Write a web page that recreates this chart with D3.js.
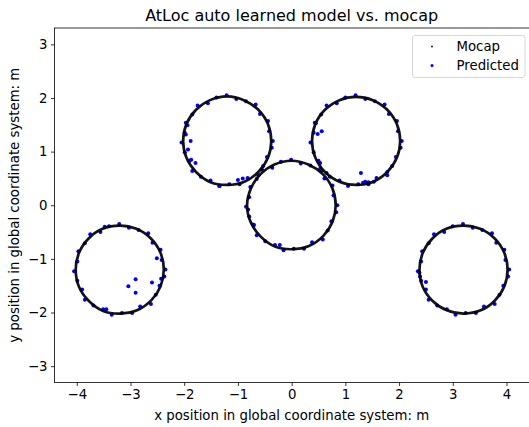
<!DOCTYPE html>
<html>
<head>
<meta charset="utf-8">
<script src="https://cdn.jsdelivr.net/npm/d3@7"></script>
<style>
  html, body { margin: 0; padding: 0; background: #fff; }
  svg { display: block; }
  text { font-family: "DejaVu Sans", sans-serif; fill: #000; }
</style>
</head>
<body>
<svg id="chart" width="529" height="427"></svg>
<script>
// Tick values
const xTicks = [-4, -3, -2, -1, 0, 1, 2, 3, 4];
const yTicks = [-3, -2, -1, 0, 1, 2, 3];

// Mocap trajectory samples, one loop per ring
const mocapRingA = [[-2.38,-1.20],[-2.44,-0.89],[-2.62,-0.62],[-2.89,-0.44],[-3.20,-0.38],[-3.52,-0.44],[-3.78,-0.62],[-3.96,-0.89],[-4.02,-1.20],[-3.96,-1.52],[-3.78,-1.78],[-3.51,-1.97],[-3.20,-2.02],[-2.88,-1.96],[-2.61,-1.77],[-2.44,-1.51]];
const mocapRingB = [[-0.38,1.20],[-0.44,1.51],[-0.62,1.78],[-0.89,1.96],[-1.20,2.03],[-1.52,1.96],[-1.78,1.78],[-1.96,1.51],[-2.02,1.20],[-1.96,0.89],[-1.78,0.62],[-1.51,0.43],[-1.20,0.38],[-0.88,0.44],[-0.62,0.62],[-0.44,0.89]];
const mocapRingC = [[0.82,0.00],[0.76,0.31],[0.58,0.58],[0.31,0.76],[0.00,0.83],[-0.32,0.76],[-0.58,0.58],[-0.76,0.31],[-0.83,0.00],[-0.76,-0.32],[-0.58,-0.58],[-0.31,-0.77],[0.00,-0.82],[0.32,-0.76],[0.59,-0.57],[0.76,-0.31]];
const mocapRingD = [[2.02,1.20],[1.96,1.51],[1.78,1.78],[1.51,1.96],[1.20,2.02],[0.89,1.96],[0.62,1.78],[0.44,1.51],[0.38,1.20],[0.44,0.89],[0.62,0.62],[0.89,0.44],[1.20,0.38],[1.52,0.44],[1.78,0.62],[1.96,0.89]];
const mocapRingE = [[4.02,-1.20],[3.96,-0.89],[3.78,-0.62],[3.51,-0.44],[3.20,-0.38],[2.88,-0.44],[2.62,-0.62],[2.44,-0.89],[2.38,-1.20],[2.44,-1.52],[2.62,-1.78],[2.89,-1.96],[3.20,-2.02],[3.52,-1.96],[3.78,-1.78],[3.96,-1.51]];

// Predicted positions
const predRingA = [[-2.35,-1.20],[-2.42,-1.02],[-2.44,-0.83],[-2.59,-0.70],[-2.67,-0.52],[-2.85,-0.46],[-3.03,-0.42],[-3.21,-0.35],[-3.40,-0.39],[-3.56,-0.50],[-3.75,-0.54],[-3.85,-0.71],[-3.97,-0.86],[-3.99,-1.05],[-4.05,-1.23],[-3.99,-1.41],[-3.90,-1.57],[-3.85,-1.76],[-3.69,-1.87],[-3.51,-1.94],[-3.35,-2.04],[-3.16,-2.01],[-2.97,-2.01],[-2.82,-1.89],[-2.62,-1.84],[-2.53,-1.67],[-2.46,-1.50],[-2.37,-1.33],[-2.905,-1.38],[-3.04,-1.51],[-2.905,-1.63],[-2.60,-1.44],[-2.51,-0.99],[-2.43,-1.37],[-3.45,-1.94],[-3.48,-0.40]];
const predRingB = [[-0.35,1.20],[-0.42,1.38],[-0.44,1.57],[-0.59,1.70],[-0.67,1.88],[-0.85,1.94],[-1.03,1.98],[-1.21,2.05],[-1.40,2.01],[-1.56,1.90],[-1.75,1.86],[-1.85,1.69],[-1.97,1.54],[-1.99,1.35],[-2.05,1.17],[-1.99,0.99],[-1.90,0.83],[-1.85,0.64],[-1.69,0.53],[-1.51,0.46],[-1.35,0.36],[-1.16,0.39],[-0.97,0.39],[-0.82,0.51],[-0.62,0.56],[-0.53,0.73],[-0.46,0.90],[-0.37,1.07],[-1.97,1.32],[-1.88,1.20],[-1.93,1.04],[-1.87,0.85],[-1.79,0.79],[-0.91,0.50],[-1.34,0.36],[-1.94,1.49],[-1.00,0.47]];
const predRingC = [[0.85,0.00],[0.78,0.18],[0.76,0.37],[0.61,0.50],[0.53,0.68],[0.35,0.74],[0.17,0.78],[-0.01,0.85],[-0.20,0.81],[-0.36,0.70],[-0.55,0.66],[-0.65,0.49],[-0.77,0.34],[-0.79,0.15],[-0.85,-0.03],[-0.79,-0.21],[-0.70,-0.37],[-0.65,-0.56],[-0.49,-0.67],[-0.31,-0.74],[-0.15,-0.84],[0.04,-0.81],[0.23,-0.81],[0.38,-0.69],[0.58,-0.64],[0.67,-0.47],[0.74,-0.30],[0.83,-0.13],[-0.22,-0.74],[-0.81,-0.08],[-0.72,-0.36],[0.65,0.60]];
const predRingD = [[2.05,1.20],[1.98,1.38],[1.96,1.57],[1.81,1.70],[1.73,1.88],[1.55,1.94],[1.37,1.98],[1.19,2.05],[1.00,2.01],[0.84,1.90],[0.65,1.86],[0.55,1.69],[0.43,1.54],[0.41,1.35],[0.35,1.17],[0.41,0.99],[0.50,0.83],[0.55,0.64],[0.71,0.53],[0.89,0.46],[1.05,0.36],[1.24,0.39],[1.43,0.39],[1.58,0.51],[1.78,0.56],[1.87,0.73],[1.94,0.90],[2.03,1.07],[0.485,1.33],[0.56,1.38],[1.29,0.60],[1.37,0.44],[1.43,0.43],[1.33,0.42],[1.53,0.44],[1.78,0.62],[0.53,0.79],[0.45,1.53]];
const predRingE = [[4.05,-1.20],[3.98,-1.02],[3.96,-0.83],[3.81,-0.70],[3.73,-0.52],[3.55,-0.46],[3.37,-0.42],[3.19,-0.35],[3.00,-0.39],[2.84,-0.50],[2.65,-0.54],[2.55,-0.71],[2.43,-0.86],[2.41,-1.05],[2.35,-1.23],[2.41,-1.41],[2.50,-1.57],[2.55,-1.76],[2.71,-1.87],[2.89,-1.94],[3.05,-2.04],[3.24,-2.01],[3.43,-2.01],[3.58,-1.89],[3.78,-1.84],[3.87,-1.67],[3.94,-1.50],[4.03,-1.33],[2.50,-1.43],[2.39,-1.33],[2.38,-1.26]];

const mocapRings = [mocapRingA, mocapRingB, mocapRingC, mocapRingD, mocapRingE];
const predicted = [].concat(predRingA, predRingB, predRingC, predRingD, predRingE);

const svg = d3.select("#chart");
const plot = { left: 54.5, right: 528.8, top: 28, bottom: 382.5 };

const x = d3.scaleLinear().domain([-4.415, 4.415]).range([plot.left, plot.right]);
const y = d3.scaleLinear().domain([-3.305, 3.305]).range([plot.bottom, plot.top]);

svg.append("clipPath").attr("id", "plotClip")
  .append("rect")
  .attr("x", plot.left).attr("y", plot.top)
  .attr("width", plot.right - plot.left).attr("height", plot.bottom - plot.top);

const marks = svg.append("g").attr("clip-path", "url(#plotClip)");

// Predicted positions
marks.append("g").selectAll("circle")
  .data(predicted)
  .join("circle")
  .attr("cx", d => x(d[0]))
  .attr("cy", d => y(d[1]))
  .attr("r", 2)
  .attr("fill", "#0000ff");

// Mocap loops
const loop = d3.line().x(d => x(d[0])).y(d => y(d[1])).curve(d3.curveCatmullRomClosed);
marks.append("g").selectAll("path")
  .data(mocapRings)
  .join("path")
  .attr("d", loop)
  .attr("fill", "none")
  .attr("stroke", "#000")
  .attr("stroke-width", 2.7)
  .attr("stroke-opacity", 0.92);

// Axes
const fmt = d => (d < 0 ? "\u2212" + Math.abs(d) : String(d));
const xAxis = svg.append("g")
  .attr("transform", `translate(0,${plot.bottom})`)
  .call(d3.axisBottom(x).tickValues(xTicks).tickFormat(fmt).tickSize(3.5).tickPadding(3.5));
const yAxis = svg.append("g")
  .attr("transform", `translate(${plot.left},0)`)
  .call(d3.axisLeft(y).tickValues(yTicks).tickFormat(fmt).tickSize(3.5).tickPadding(3.5));
[xAxis, yAxis].forEach(g => {
  g.select(".domain").remove();
  g.selectAll(".tick line").attr("stroke", "#000").attr("stroke-width", 0.8);
  g.selectAll(".tick text").attr("font-size", 13.3).attr("font-family", "DejaVu Sans").attr("fill", "#000");
});

// Frame
svg.append("rect")
  .attr("x", plot.left).attr("y", plot.top)
  .attr("width", plot.right - plot.left + 2).attr("height", plot.bottom - plot.top)
  .attr("fill", "none").attr("stroke", "#000").attr("stroke-width", 0.8);

// Title and axis labels
svg.append("text")
  .attr("x", (plot.left + plot.right) / 2).attr("y", 21)
  .attr("text-anchor", "middle").attr("font-size", 16)
  .text("AtLoc auto learned model vs. mocap");
svg.append("text")
  .attr("x", (plot.left + plot.right) / 2).attr("y", 420)
  .attr("text-anchor", "middle").attr("font-size", 13.3)
  .text("x position in global coordinate system: m");
svg.append("text")
  .attr("transform", `translate(19,${(plot.top + plot.bottom) / 2}) rotate(-90)`)
  .attr("text-anchor", "middle").attr("font-size", 13.3)
  .text("y position in global coordinate system: m");

// Legend
const legend = svg.append("g");
legend.append("rect")
  .attr("x", 412.5).attr("y", 35.5).attr("width", 112.5).attr("height", 42)
  .attr("rx", 2.5).attr("fill", "#fff").attr("fill-opacity", 0.8)
  .attr("stroke", "#cccccc").attr("stroke-width", 0.8);
const legendItems = [
  { label: "Mocap", color: "#000", r: 0.9, cy: 46.5 },
  { label: "Predicted", color: "#0000ff", r: 1.5, cy: 65.5 }
];
legendItems.forEach(item => {
  legend.append("circle").attr("cx", 432).attr("cy", item.cy).attr("r", item.r).attr("fill", item.color);
  legend.append("text").attr("x", 456.5).attr("y", item.cy + 4.8).attr("font-size", 13.3).text(item.label);
});
</script>
</body>
</html>
